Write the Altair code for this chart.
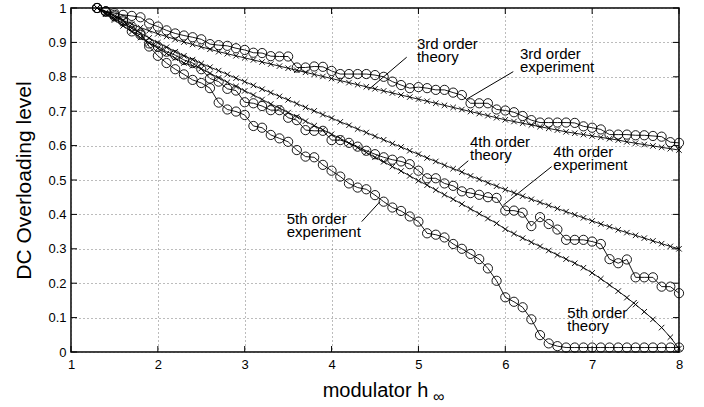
import altair as alt
import pandas as pd

# sample grid of modulator h (step 0.1)
h_grid = [round(1.3 + 0.1 * i, 1) for i in range(68)]

exp3 = [1.0, 0.99, 0.985, 0.98, 0.977, 0.973, 0.955, 0.946, 0.935, 0.926,
        0.92, 0.915, 0.909, 0.895, 0.892, 0.89, 0.883, 0.878, 0.87, 0.869,
        0.86, 0.859, 0.859, 0.827, 0.827, 0.83, 0.829, 0.817, 0.808, 0.808,
        0.808, 0.808, 0.805, 0.80, 0.786, 0.776, 0.767, 0.77, 0.767, 0.762,
        0.762, 0.754, 0.747, 0.723, 0.723, 0.723, 0.705, 0.702, 0.697, 0.686,
        0.674, 0.667, 0.667, 0.667, 0.667, 0.666, 0.656, 0.652, 0.647, 0.632,
        0.632, 0.632, 0.63, 0.63, 0.628, 0.626, 0.61, 0.608]

exp4 = [1.0, 0.99, 0.98, 0.965, 0.932, 0.922, 0.897, 0.888, 0.873, 0.863,
        0.849, 0.84, 0.822, 0.795, 0.786, 0.765, 0.76, 0.726, 0.723, 0.715,
        0.703, 0.703, 0.681, 0.674, 0.645, 0.643, 0.643, 0.616, 0.616, 0.608,
        0.597, 0.585, 0.575, 0.566, 0.559, 0.554, 0.546, 0.527, 0.505, 0.505,
        0.49, 0.483, 0.467, 0.462, 0.457, 0.45, 0.448, 0.411, 0.411, 0.405,
        0.366, 0.392, 0.372, 0.356, 0.326, 0.326, 0.326, 0.321, 0.314, 0.27,
        0.258, 0.269, 0.217, 0.217, 0.217, 0.19, 0.19, 0.171]

exp5 = [1.0, 0.99, 0.976, 0.961, 0.946, 0.926, 0.888, 0.861, 0.84, 0.822,
        0.807, 0.791, 0.782, 0.767, 0.725, 0.705, 0.699, 0.689, 0.657, 0.652,
        0.631, 0.621, 0.611, 0.587, 0.568, 0.566, 0.544, 0.527, 0.51, 0.49,
        0.478, 0.473, 0.456, 0.437, 0.42, 0.41, 0.394, 0.379, 0.345, 0.341,
        0.333, 0.314, 0.30, 0.285, 0.27, 0.243, 0.207, 0.159, 0.146, 0.13,
        0.095, 0.049, 0.025, 0.017, 0.013, 0.013, 0.013, 0.013, 0.013, 0.013,
        0.013, 0.013, 0.013, 0.013, 0.013, 0.013, 0.013, 0.013]

th3 = [1.0, 0.988, 0.976, 0.964, 0.953, 0.943, 0.934, 0.925, 0.917, 0.909,
       0.901, 0.894, 0.887, 0.88, 0.873, 0.867, 0.861, 0.855, 0.849, 0.843,
       0.837, 0.831, 0.825, 0.819, 0.813, 0.807, 0.801, 0.795, 0.789, 0.783,
       0.777, 0.771, 0.765, 0.759, 0.753, 0.747, 0.741, 0.735, 0.729, 0.723,
       0.717, 0.711, 0.705, 0.699, 0.693, 0.687, 0.681, 0.675, 0.67, 0.665,
       0.66, 0.655, 0.65, 0.645, 0.64, 0.636, 0.632, 0.628, 0.624, 0.62,
       0.616, 0.611, 0.607, 0.603, 0.599, 0.595, 0.591, 0.587]

th4 = [1.0, 0.984, 0.969, 0.955, 0.941, 0.927, 0.913, 0.899, 0.886, 0.873,
       0.861, 0.85, 0.839, 0.828, 0.818, 0.807, 0.796, 0.786, 0.775, 0.764,
       0.754, 0.743, 0.733, 0.722, 0.711, 0.701, 0.69, 0.68, 0.669, 0.659,
       0.648, 0.638, 0.627, 0.617, 0.606, 0.596, 0.585, 0.575, 0.564, 0.554,
       0.543, 0.533, 0.523, 0.512, 0.502, 0.492, 0.482, 0.472, 0.463, 0.453,
       0.444, 0.435, 0.426, 0.417, 0.408, 0.399, 0.39, 0.381, 0.372, 0.364,
       0.355, 0.347, 0.339, 0.331, 0.323, 0.315, 0.307, 0.30]

th5 = [1.0, 0.982, 0.965, 0.948, 0.931, 0.914, 0.898, 0.883, 0.868, 0.854,
       0.84, 0.832, 0.824, 0.81, 0.797, 0.784, 0.772, 0.759, 0.747, 0.734,
       0.721, 0.709, 0.696, 0.684, 0.671, 0.658, 0.646, 0.633, 0.621, 0.607,
       0.594, 0.58, 0.566, 0.553, 0.539, 0.526, 0.512, 0.498, 0.485, 0.471,
       0.457, 0.444, 0.43, 0.416, 0.402, 0.388, 0.374, 0.357, 0.344, 0.331,
       0.319, 0.307, 0.295, 0.282, 0.27, 0.258, 0.245, 0.23, 0.213, 0.195,
       0.177, 0.158, 0.138, 0.117, 0.095, 0.071, 0.043, 0.01]

x_ticks = [1, 2, 3, 4, 5, 6, 7, 8]
y_ticks = [0, 0.1, 0.2, 0.3, 0.4, 0.5, 0.6, 0.7, 0.8, 0.9, 1]

ann_text = ["3rd order\ntheory", "3rd order\nexperiment", "4th order\ntheory",
            "4th order\nexperiment", "5th order\nexperiment", "5th order\ntheory"]
ann_x = [4.983, 6.169, 5.594, 6.553, 3.483, 6.714]
ann_y = [0.881, 0.851, 0.595, 0.568, 0.371, 0.098]
lead_x1 = [4.865, 6.092, 5.574, 6.534, 4.347, 7.398]
lead_y1 = [0.857, 0.815, 0.556, 0.539, 0.379, 0.122]
lead_x2 = [4.423, 5.556, 5.447, 5.977, 4.557, 7.513]
lead_y2 = [0.762, 0.735, 0.529, 0.427, 0.437, 0.151]

exp_rows = []
for name, vals in [("3rd", exp3), ("4th", exp4), ("5th", exp5)]:
    for h, v in zip(h_grid, vals):
        exp_rows.append({"order": name, "h": h, "level": v})
exp_df = pd.DataFrame(exp_rows)

th_rows = []
for name, vals in [("3rd", th3), ("4th", th4), ("5th", th5)]:
    for h, v in zip(h_grid, vals):
        th_rows.append({"order": name, "h": h, "level": v})
th_df = pd.DataFrame(th_rows)

ann_df = pd.DataFrame({"h": ann_x, "level": ann_y, "label": ann_text})
lead_df = pd.DataFrame({"h": lead_x1, "level": lead_y1, "h2": lead_x2, "level2": lead_y2})
xt_df = pd.DataFrame({"h": x_ticks})
yt_df = pd.DataFrame({"level": y_ticks})

FONT = "Liberation Sans"
W, H = 608, 344

xs = alt.Scale(domain=[1, 8], nice=False, zero=False)
ys = alt.Scale(domain=[0, 1], nice=False, zero=False)

x_axis = alt.Axis(values=x_ticks, title="modulator h", grid=True, gridDash=[1, 3],
                  gridColor="#555", gridWidth=0.8, tickSize=0, domain=False,
                  labelFont=FONT, labelFontSize=13, labelColor="black", labelPadding=6,
                  titleFont=FONT, titleFontSize=20, titleFontWeight="normal",
                  titleColor="black", titlePadding=9, format="d", labelFlush=False,
                  labelOverlap=False)
y_axis = alt.Axis(values=y_ticks, title="DC Overloading level", grid=True, gridDash=[1, 3],
                  gridColor="#555", gridWidth=0.8, tickSize=0, domain=False,
                  labelFont=FONT, labelFontSize=13, labelColor="black", labelPadding=5,
                  titleFont=FONT, titleFontSize=21, titleFontWeight="normal",
                  titleColor="black", titlePadding=13, labelFlush=False,
                  labelOverlap=False,
                  labelExpr="datum.value == 0 ? '0' : datum.value == 1 ? '1' : format(datum.value, '.1f')")

X = alt.X("h:Q", scale=xs, axis=x_axis)
Y = alt.Y("level:Q", scale=ys, axis=y_axis)

exp_line = alt.Chart(exp_df).mark_line(color="black", strokeWidth=0.9).encode(
    x=X, y=Y, detail="order:N")
exp_pts = alt.Chart(exp_df).mark_point(shape="circle", filled=False, color="black",
                                       size=85, strokeWidth=0.9, opacity=1).encode(
    x=X, y=Y)
th_line = alt.Chart(th_df).mark_line(color="black", strokeWidth=0.9).encode(
    x=X, y=Y, detail="order:N")
th_pts = alt.Chart(th_df).mark_point(shape="M-1,-1L1,1M-1,1L1,-1", filled=False,
                                     color="black", size=30, strokeWidth=0.9, opacity=1).encode(
    x=X, y=Y)

leaders = alt.Chart(lead_df).mark_rule(color="black", strokeWidth=1).encode(
    x=X, y=Y, x2="h2:Q", y2="level2:Q")
labels = alt.Chart(ann_df).mark_text(align="left", baseline="alphabetic", font=FONT,
                                     fontSize=15, lineHeight=13, lineBreak="\n",
                                     color="black").encode(
    x=X, y=Y, text="label:N")

# inward tick marks on all four sides
tb = alt.Chart(xt_df).mark_rule(color="black", strokeWidth=1).encode(
    x=X, y=alt.value(H), y2=alt.value(H - 6))
tt = alt.Chart(xt_df).mark_rule(color="black", strokeWidth=1).encode(
    x=X, y=alt.value(0), y2=alt.value(6))
tl = alt.Chart(yt_df).mark_rule(color="black", strokeWidth=1).encode(
    y=Y, x=alt.value(0), x2=alt.value(6))
tr = alt.Chart(yt_df).mark_rule(color="black", strokeWidth=1).encode(
    y=Y, x=alt.value(W), x2=alt.value(W - 6))

inf_df = pd.DataFrame({"s": ["\u221e"]})
inf_text = alt.Chart(inf_df).mark_text(align="left", baseline="middle", font=FONT,
                                       fontSize=16, color="black").encode(
    text="s:N", x=alt.value(362), y=alt.value(389))

chart = alt.layer(exp_line, th_line, exp_pts, th_pts, leaders, labels,
                  tb, tt, tl, tr, inf_text).properties(
    width=W, height=H,
    padding={"left": 71, "top": 8, "right": 25, "bottom": 55},
    autosize=alt.AutoSizeParams(type="none"),
    background="white",
).configure_view(stroke="black", strokeWidth=1.5)

chart.save("out.html", embed_options={"renderer": "svg", "actions": False})
